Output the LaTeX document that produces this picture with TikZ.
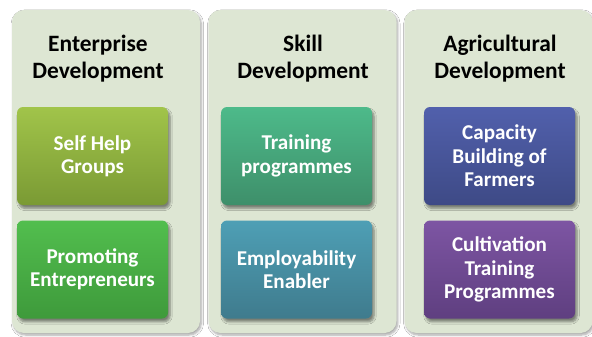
\documentclass[tikz,border=0pt]{standalone}
\usepackage{fontspec}
\setmainfont{Carlito}
\usetikzlibrary{shadows.blur}

\definecolor{panelbg}{HTML}{DDE6D3}
\tikzstyle{panel}=[rectangle,rounded corners=12*0.3mm,fill=panelbg,minimum width=188*0.3mm,minimum height=323*0.3mm,blur shadow={shadow xshift=0.4mm,shadow yshift=-0.6mm,shadow blur steps=6,shadow opacity=35}]
\tikzstyle{head}=[align=center,font=\fontsize{20}{23}\selectfont\bfseries]
\tikzstyle{item}=[rectangle,rounded corners=6*0.3mm,minimum width=151*0.3mm,minimum height=98*0.3mm,align=center,text=white,font=\fontsize{18}{20}\selectfont\bfseries,blur shadow={shadow xshift=0.6mm,shadow yshift=-1mm,shadow blur steps=6,shadow opacity=45}]

\begin{document}
\begin{tikzpicture}[x=0.3mm,y=-0.3mm]
	\useasboundingbox[fill=white] (0,0) rectangle (592,337);

	\node[panel] (ent) at (106,171.5) {};
	\node[panel] (skl) at (302.5,171.5) {};
	\node[panel] (agr) at (498.5,171.5) {};

	\node[head] (enthead) at (98,58.5) {Enterprise\\Development};
	\node[head] (sklhead) at (303,58.5) {Skill\\Development};
	\node[head] (agrhead) at (500,58.5) {Agricultural\\Development};

	\node[item,top color={rgb,255:red,161;green,196;blue,74},bottom color={rgb,255:red,122;green,154;blue,52}] (shg) at (92.5,156) {Self Help\\Groups};
	\node[item,top color={rgb,255:red,82;green,190;blue,78},bottom color={rgb,255:red,62;green,154;blue,59}] (pe) at (92.5,269.5) {Promoting\\Entrepreneurs};

	\node[item,top color={rgb,255:red,77;green,186;blue,138},bottom color={rgb,255:red,62;green,143;blue,106}] (tp) at (296.5,156) {Training\\programmes};
	\node[item,top color={rgb,255:red,78;green,159;blue,181},bottom color={rgb,255:red,63;green,123;blue,141}] (ee) at (296.5,269.5) {Employability\\Enabler};

	\node[item,top color={rgb,255:red,81;green,96;blue,172},bottom color={rgb,255:red,62;green,74;blue,134}] (cbf) at (499.5,156) {Capacity\\Building of\\Farmers};
	\node[item,top color={rgb,255:red,125;green,85;blue,163},bottom color={rgb,255:red,95;green,63;blue,128}] (ctp) at (499.5,269.5) {Cultivation\\Training\\Programmes};
\end{tikzpicture}
\end{document}
